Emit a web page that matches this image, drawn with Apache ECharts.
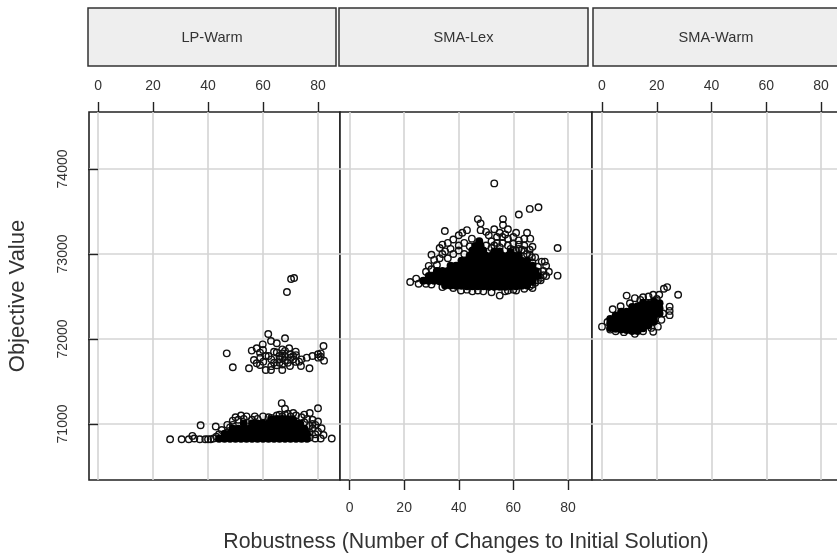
<!DOCTYPE html>
<html><head><meta charset="utf-8">
<style>html,body{margin:0;padding:0;background:#fff}#c{width:837px;height:556px}</style>
<script src="https://cdn.jsdelivr.net/npm/echarts@6/dist/echarts.min.js"></script>
</head><body><div id="c"></div>
<script>
const panelNames = ['LP-Warm','SMA-Lex','SMA-Warm'];
const xTicks = [0,20,40,60,80];
const yTicks = [71000,72000,73000,74000];
const yTitle = 'Objective Value';
const xTitle = 'Robustness (Number of Changes to Initial Solution)';

const lpWarmRings = [[61.9,72059],[68,72008],[62.9,71976],[59.9,71937],[57.7,71890],[55.9,71863],[58.9,71839],[46.8,71831],[65,71949],[67,71878],[69.5,71890],[71.9,71851],[82,71918],[78,71800],[75.9,71780],[81,71831],[80.1,71780],[82.2,71745],[76.9,71655],[73.8,71682],[73.1,71733],[69.8,71682],[67,71635],[62.9,71635],[61,71635],[58.9,71694],[56.7,71753],[57.7,71714],[54.9,71655],[49,71667],[60.1,71733],[62,71800],[63,71760],[64,71720],[65,71690],[65,71840],[66,71800],[66,71760],[66,71720],[67,71700],[67,71780],[67,71830],[68,71800],[68,71750],[68,71860],[69,71720],[70,71780],[70,71820],[71,71760],[71,71800],[72,71730],[72,71810],[64,71850],[63,71680],[60,71870],[61,71800],[59,71780],[74,71760],[80,71820],[81,71790],[70.2,72706],[71.3,72718],[68.7,72553],
[26.2,70820],[30.4,70820],[33,70820],[34.3,70860],[35,70830],[37,70820],[37.3,70985],[39,70820],[40,70820],[41,70820],[42,70830],[42.8,70970],[43,70850],[44,70880],[45,70930],[46,70860],[47,70900],[48,70960],[49,71040],[50,71080],[51,71050],[52,71100],[53,71060],[54,71090],[56,71050],[57,71090],[58,71060],[60,71090],[62,71080],[63,71070],[64,71040],[65,71100],[66,71110],[67,71090],[68,71110],[66.8,71245],[68,71180],[69,71120],[70,71090],[71,71130],[72,71100],[74,71080],[75,71110],[77,71130],[76,71060],[78,71050],[80,71185],[80,71030],[79,70990],[81.3,70950],[80,70910],[78,70950],[79,70880],[77,70900],[81,70830],[79,70830],[85,70830],[82,70870],[77,70840],[78,71000],[75,71020],[77,70980],[47,70990],[49,70990]];
const lpWarmDense = [[44,70825],[46,70825],[48,70825],[50,70825],[52,70825],[54,70825],[56,70825],[58,70825],[60,70825],[62,70825],[64,70825],[66,70825],[68,70825],[70,70825],[72,70825],[74,70825],[76,70825],
[46,70885],[48,70885],[50,70885],[52,70885],[54,70885],[56,70885],[58,70885],[60,70885],[62,70885],[64,70885],[66,70885],[68,70885],[70,70885],[72,70885],[74,70885],[76,70885],
[49,70945],[51,70945],[53,70945],[55,70945],[57,70945],[59,70945],[61,70945],[63,70945],[65,70945],[67,70945],[69,70945],[71,70945],[73,70945],[75,70945],
[53,71005],[56,71005],[58,71005],[60,71005],[62,71005],[64,71005],[66,71005],[68,71005],[70,71005],[72,71005],[73.5,71005],
[63,71050],[65,71060],[67,71060],[69,71055],[71,71050]];

const smaLexRings = [[53,73830],[69.2,73550],[66,73530],[62,73465],[76.2,73070],[76.2,72745],[47,73410],[48,73360],[56.2,73410],[56.2,73340],[34.9,73270],[58,73290],[43,73280],[41.3,73250],[40,73220],[38,73170],[36,73130],[34,73110],[33,73070],[34,73000],[30,72990],[44.8,73180],[48,73280],[53,73290],[61,73250],[65,73250],[64,73180],[66.2,73180],[67,73085],[66.8,72960],[70.4,72910],[71.5,72910],[73,72790],[70,72690],[67,72600],[55,72510],[45,72560],[40.8,72570],[49,72560],[58,72570],[61,72570],[22.2,72670],[24.4,72710],[25.3,72650],[29,72860],[28,72790],
[50,73100],[52,73150],[54,73200],[56,73130],[58,73180],[60,73120],[62,73160],[64,73100],[66,73050],[51,73220],[53,73100],[55,73080],[57,73230],[59,73060],[61,73040],[63,73050],[65,73000],[67,72900],[69,72850],[71,72800],[72,72860],[70,72720],[68,72660],[72,72740],[66,72620],[64,72590],[60,72580],[57,72560],[52,72550],[47,72570],[43,72580],[38,72600],[34,72610],[30,72640],[28,72650],[42,73000],[40,73040],[38,73000],[36,72950],[32,72870],[31,72930],[55,73250],[50,73260],[60,73200],[62,73060],
[52,73070],[54,73130],[56,73200],[58,73100],[60,73040],[62,73110],[64,73040],[66,72990],[68,72960],[69,72790],[71,72750],[69,72690],[67,72640],[44,73090],[42,73130],[40,73100],[37,73060],[35,73030],[33,72950],[30,72820]];
const smaLexDense = [[35,72630],[37,72630],[39,72625],[41,72625],[43,72620],[45,72620],[47,72620],[49,72620],[51,72615],[53,72615],[55,72615],[57,72615],[59,72620],[61,72620],[63,72625],[65,72630],
[27,72685],[29,72685],[31,72685],[33,72680],[35,72680],[37,72680],[39,72680],[41,72680],[43,72680],[45,72680],[47,72680],[49,72680],[51,72680],[53,72680],[55,72680],[57,72680],[59,72680],[61,72680],[63,72680],[65,72680],[67,72680],
[29,72740],[31,72740],[33,72740],[35,72740],[37,72740],[39,72740],[41,72740],[43,72740],[45,72740],[47,72740],[49,72740],[51,72740],[53,72740],[55,72740],[57,72740],[59,72740],[61,72740],[63,72740],[65,72740],[67,72740],[69,72740],
[32,72800],[34,72800],[36,72800],[38,72800],[40,72800],[42,72800],[44,72800],[46,72800],[48,72800],[50,72800],[52,72800],[54,72800],[56,72800],[58,72800],[60,72800],[62,72800],[64,72800],[66,72800],[68,72800],
[37,72860],[39,72860],[41,72860],[43,72860],[45,72860],[47,72860],[49,72860],[51,72860],[53,72860],[55,72860],[57,72860],[59,72860],[61,72860],[63,72860],[65,72860],[67,72860],
[41,72920],[43,72920],[45,72920],[47,72920],[49,72920],[51,72920],[53,72920],[55,72920],[57,72920],[59,72920],[61,72920],[63,72920],[65,72920],
[44,72980],[46,72980],[48,72980],[50,72980],[52,72980],[54,72980],[56,72980],[58,72980],[60,72980],[62,72980],
[45,73040],[47,73040],[49,73040],[53,73030],[55,73030],[59,73020],
[46,73095],[48,73095],[47.5,73150]];

const smaWarmRings = [[0,72145],[27.8,72520],[23.8,72610],[22.6,72590],[20.9,72520],[18.7,72520],[12,72480],[9,72510],[10.2,72420],[6.8,72385],[3.9,72350],[24.7,72380],[24.7,72330],[24.7,72280],[18.7,72085],[12,72060],[8,72080],[21.7,72225],[20.4,72145],[22.3,72300],[15,72490],[17,72500],[20,72470],[14,72460],[2,72200],[5,72090],[15,72090],[18,72130],[3,72110]];
const smaWarmDense = [[3,72130],[3,72185],[3,72235],[5,72120],[5,72175],[5,72230],[5,72275],[7,72110],[7,72165],[7,72220],[7,72270],[7,72320],[9,72105],[9,72160],[9,72215],[9,72265],[9,72320],[11,72095],[11,72150],[11,72205],[11,72260],[11,72315],[11,72375],[13,72095],[13,72150],[13,72205],[13,72260],[13,72320],[13,72385],[15,72125],[15,72180],[15,72240],[15,72300],[15,72360],[15,72425],[17,72160],[17,72220],[17,72285],[17,72345],[17,72410],[19,72205],[19,72265],[19,72325],[19,72385],[19,72440],[21,72300],[21,72360],[21,72420]];

const ringSets = [lpWarmRings, smaLexRings, smaWarmRings];
const denseSets = [lpWarmDense, smaLexDense, smaWarmDense];
const panelLeft = [89,340,592];
const panelWidth = [251,252,251];
const xMin = [-3.3,-3.5,-3.65];
const xMax = [88,88.8,88];

const ink = '#222', gridInk = '#d4d4d4', font = '"Liberation Sans", Arial, sans-serif';
const grid = [], xAxis = [], yAxis = [], series = [], graphic = [];
const stripX = [[88,336],[339,588],[593,845]];
panelNames.forEach((name,i)=>{
  grid.push({left:panelLeft[i],top:112,width:panelWidth[i],height:368,show:true,backgroundColor:'#fff',borderColor:ink,borderWidth:1.6,containLabel:false,outerBoundsMode:'none'});
  const onTop = i!==1;
  const xa = {gridIndex:i,type:'value',min:xMin[i],max:xMax[i],position:onTop?'top':'bottom',
    axisLine:{show:false},
    axisTick:{show:true,inside:false,length:10,customValues:xTicks,lineStyle:{color:ink,width:1.4}},
    axisLabel:{show:true,margin:onTop?19:21,color:'#333',fontSize:14,fontFamily:font,customValues:xTicks,showMinLabel:true,showMaxLabel:true,formatter:v=>String(v)},
    splitLine:{show:true,lineStyle:{color:gridInk,width:1.6}}};
  if(i===1){xa.name=xTitle;xa.nameLocation='middle';xa.nameGap=52;xa.nameTextStyle={fontSize:21.3,color:'#333',fontFamily:font};}
  xAxis.push(xa);
  const ya = {gridIndex:i,type:'value',min:70341,max:74670,position:'left',
    axisLine:{show:false},
    axisTick:{show:i===0,length:10,customValues:yTicks,lineStyle:{color:ink,width:1.4}},
    axisLabel:{show:i===0,rotate:90,margin:19,color:'#333',fontSize:14,fontFamily:font,customValues:yTicks,formatter:v=>String(v)},
    splitLine:{show:true,lineStyle:{color:gridInk,width:1.6}}};
  if(i===0){ya.name=yTitle;ya.nameLocation='middle';ya.nameGap=60;ya.nameRotate=90;ya.nameTextStyle={fontSize:22,color:'#333',fontFamily:font};}
  yAxis.push(ya);
  series.push({type:'scatter',xAxisIndex:i,yAxisIndex:i,data:ringSets[i],symbol:'circle',symbolSize:6.5,silent:true,animation:false,
    itemStyle:{color:'rgba(0,0,0,0)',borderColor:'#111',borderWidth:1.4,opacity:1},z:5});
  series.push({type:'scatter',xAxisIndex:i,yAxisIndex:i,data:denseSets[i],symbol:'circle',symbolSize:8,silent:true,animation:false,
    itemStyle:{color:'#000',borderWidth:0,opacity:1},z:6});
  const s = stripX[i];
  graphic.push({type:'rect',shape:{x:s[0],y:8,width:s[1]-s[0],height:58},style:{fill:'#eeeeee',stroke:'#333',lineWidth:1.5},silent:true});
  graphic.push({type:'text',x:i===2?716:(s[0]+s[1])/2,y:38,style:{text:name,fontSize:14.6,fontFamily:font,fill:'#333',textAlign:'center',textVerticalAlign:'middle'},silent:true});
});
const chart = echarts.init(document.getElementById('c'),null,{renderer:'canvas'});
chart.setOption({animation:false,backgroundColor:'#fff',grid,xAxis,yAxis,series,graphic});
</script></body></html>
